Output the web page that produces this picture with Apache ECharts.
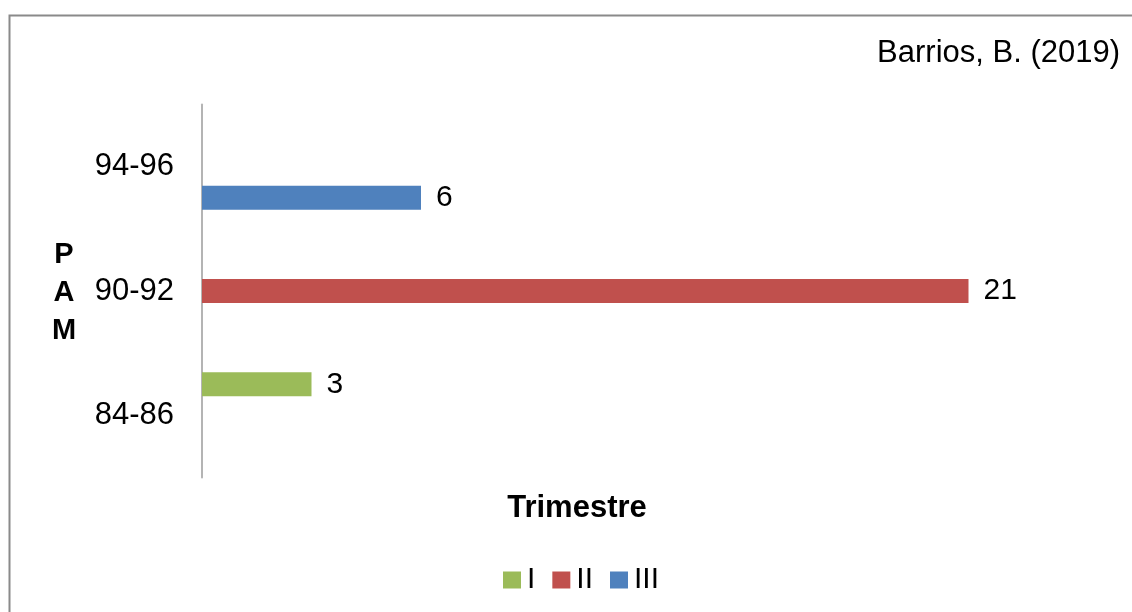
<!DOCTYPE html>
<html>
<head>
<meta charset="utf-8">
<script src="https://cdn.jsdelivr.net/npm/echarts@6/dist/echarts.min.js"></script>
<style>
html,body{margin:0;padding:0;background:#fff;}
#c{width:1132px;height:612px;}
</style>
</head>
<body>
<div id="c"></div>
<script>
const categories = ['84-86', '90-92', '94-96'];
const seriesNames = ['I', 'II', 'III'];
const valuesI = [3, null, null];
const valuesII = [null, 21, null];
const valuesIII = [null, null, 6];
const colors = ['#9BBB59', '#C0504D', '#4F81BD'];
const xMax = 24;

const FONT = '"Liberation Sans", Arial, sans-serif';
const chart = echarts.init(document.getElementById('c'), null, {renderer: 'canvas'});

const allValues = [valuesI, valuesII, valuesIII];
const series = seriesNames.map((name, i) => ({
  name: name,
  type: 'bar',
  data: allValues[i],
  barWidth: 24,
  barGap: '29%',
  itemStyle: {color: colors[i]},
  label: {
    show: true,
    position: 'right',
    distance: 15,
    fontFamily: FONT,
    fontSize: 30,
    color: '#000'
  }
}));

chart.setOption({
  animation: false,
  backgroundColor: '#fff',
  textStyle: {fontFamily: FONT},
  grid: {left: 202, right: 1132 - 202 - 876, top: 104.5, bottom: 612 - 477.5},
  xAxis: {
    type: 'value',
    min: 0,
    max: xMax,
    interval: 3,
    axisLine: {show: false},
    axisTick: {show: false},
    axisLabel: {show: false},
    splitLine: {show: false}
  },
  yAxis: {
    type: 'category',
    data: categories,
    axisLine: {show: true, lineStyle: {color: '#b4b4b4', width: 2}},
    axisTick: {show: false},
    axisLabel: {fontFamily: FONT, fontSize: 31, color: '#000', margin: 28}
  },
  legend: {
    data: seriesNames,
    bottom: 17,
    left: 503,
    padding: 0,
    icon: 'rect',
    itemWidth: 18,
    itemHeight: 17,
    itemGap: 17,
    textStyle: {fontFamily: FONT, fontSize: 30, color: '#000', padding: [0, 0, 0, 1]}
  },
  graphic: [
    {
      type: 'rect',
      shape: {x: 9.5, y: 15.5, width: 1200, height: 700},
      style: {fill: 'none', stroke: '#8a8a8a', lineWidth: 2},
      silent: true
    },
    {
      type: 'text',
      right: 12,
      top: 38,
      style: {text: 'Barrios, B. (2019)', font: '31px ' + FONT, fill: '#000'}
    },
    {
      type: 'text',
      x: 577,
      y: 508,
      style: {
        text: 'Trimestre',
        font: 'bold 31px ' + FONT,
        fill: '#000',
        align: 'center',
        verticalAlign: 'middle'
      }
    },
    {
      type: 'text',
      x: 64,
      y: 293,
      style: {
        text: 'P\nA\nM',
        font: 'bold 29px ' + FONT,
        fill: '#000',
        align: 'center',
        verticalAlign: 'middle',
        lineHeight: 38
      }
    }
  ],
  series: series
});
</script>
</body>
</html>
